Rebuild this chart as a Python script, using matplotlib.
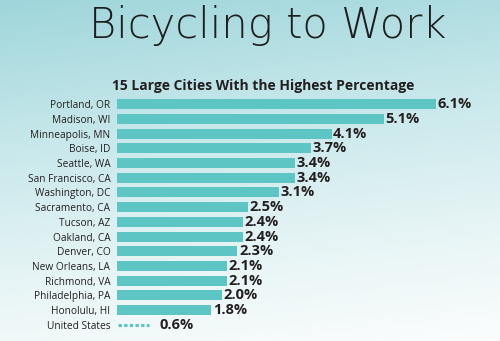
import numpy as np
import matplotlib
matplotlib.use("Agg")
import matplotlib.pyplot as plt
from matplotlib.colors import LinearSegmentedColormap

cities = ["Portland, OR", "Madison, WI", "Minneapolis, MN", "Boise, ID", "Seattle, WA",
          "San Francisco, CA", "Washington, DC", "Sacramento, CA", "Tucson, AZ",
          "Oakland, CA", "Denver, CO", "New Orleans, LA", "Richmond, VA",
          "Philadelphia, PA", "Honolulu, HI"]
shares = [6.1, 5.1, 4.1, 3.7, 3.4, 3.4, 3.1, 2.5, 2.4, 2.4, 2.3, 2.1, 2.1, 2.0, 1.8]
us_label = "United States"
us_share = 0.6

BAR = "#5ec5c5"
TEXT = "#231f20"

fig = plt.figure(figsize=(5.0, 3.41), dpi=100)

# soft teal-to-white background
bg = fig.add_axes([0, 0, 1, 1], zorder=-10)
cmap = LinearSegmentedColormap.from_list(
    "bg", [(0.0, "#9fd6db"), (0.35, "#c6e7ea"), (0.7, "#e6f4f5"), (1.0, "#fbfdfd")])
yy, xx = np.mgrid[0:1:200j, 0:1:200j]
grad = np.clip(yy * 0.85 + xx * 0.15, 0, 1)
bg.imshow(grad, cmap=cmap, aspect="auto", extent=[0, 1, 0, 1], origin="upper")
bg.axis("off")

fig.text(0.535, 1 - 38.5 / 341, "Bicycling to Work", ha="center", va="baseline",
         fontsize=30, family="DejaVu Sans", fontweight="light", color="#1e1e1e")
fig.text(0.526, 0.737, "15 Large Cities With the Highest Percentage", ha="center",
         va="baseline", fontsize=10.0, family="Open Sans", fontweight="bold", color=TEXT)

ax = fig.add_axes([0.2346, 0.0262, 0.7315, 0.6897])
ax.patch.set_alpha(0)
y = np.arange(len(cities))
ax.barh(y, shares, height=0.68, color=BAR, edgecolor="none")
for yi, v in zip(y, shares):
    ax.text(v + 0.03, yi, f"{v:.1f}%", va="center", ha="left", fontsize=10.5,
            family="Open Sans", fontweight="bold", color=TEXT)

uy = len(cities)
ax.plot([0.02, us_share], [uy, uy], color=BAR, lw=2.2,
        linestyle=(0, (1.1, 0.75)), solid_capstyle="butt")
ax.text(us_share + 0.2, uy, f"{us_share:.1f}%", va="center", ha="left", fontsize=10.5,
        family="Open Sans", fontweight="bold", color=TEXT)

ax.set_yticks(list(y) + [uy])
ax.set_yticklabels(cities + [us_label], family="Open Sans", fontsize=7.3, color=TEXT)
ax.tick_params(axis="y", length=0, pad=5)
ax.set_xticks([])
ax.set_xlim(0, 7)
ax.set_ylim(15.5, -0.5)
for s in ax.spines.values():
    s.set_visible(False)

fig.savefig("out.png", dpi=100)
